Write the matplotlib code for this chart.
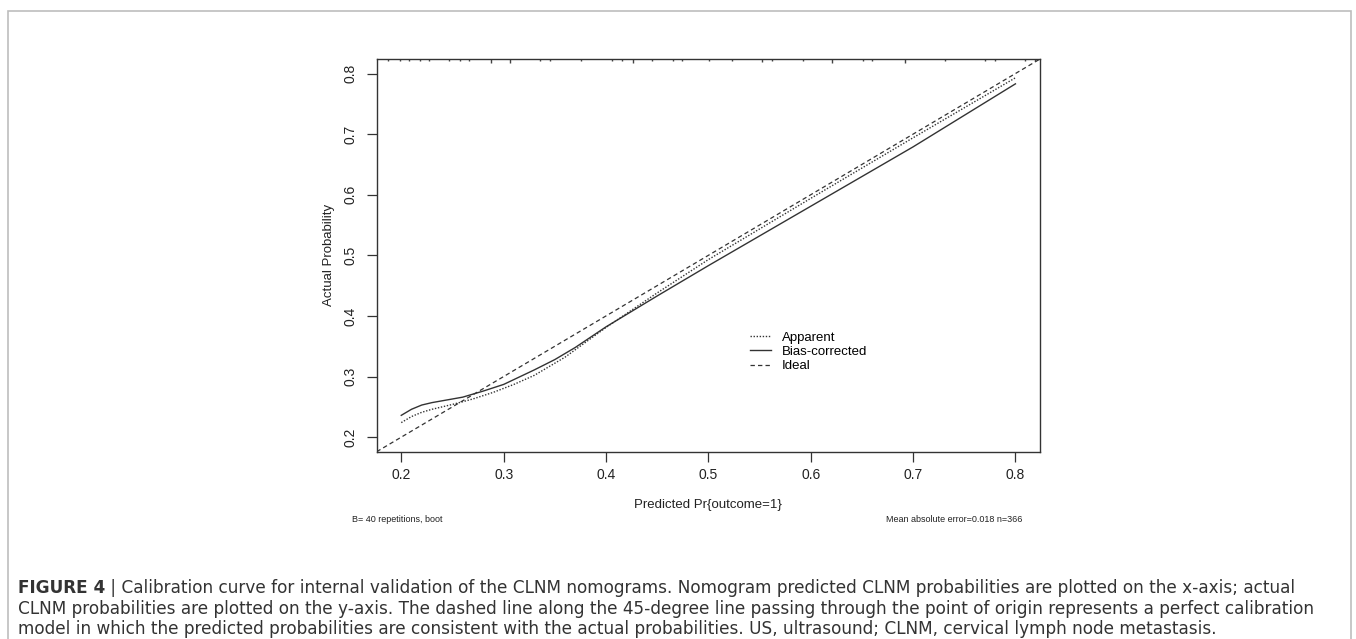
import matplotlib
matplotlib.use("Agg")
import matplotlib.pyplot as plt
from matplotlib.patches import Rectangle
import matplotlib.transforms as mtransforms

plt.rcParams['font.family'] = ['Liberation Sans', 'DejaVu Sans']

# ---- data ----
apparent_x = [0.20, 0.21, 0.22, 0.23, 0.25, 0.27, 0.29, 0.31, 0.33, 0.36, 0.40, 0.45, 0.50, 0.60, 0.70, 0.80]
apparent_y = [0.224, 0.234, 0.241, 0.246, 0.254, 0.263, 0.274, 0.287, 0.302, 0.332, 0.381, 0.438, 0.493, 0.594, 0.694, 0.793]

bias_x = [0.20, 0.21, 0.22, 0.23, 0.24, 0.26, 0.28, 0.30, 0.33, 0.35, 0.37, 0.40, 0.45, 0.50, 0.60, 0.70, 0.80]
bias_y = [0.236, 0.246, 0.253, 0.257, 0.260, 0.266, 0.276, 0.287, 0.311, 0.328, 0.348, 0.382, 0.433, 0.483, 0.581, 0.679, 0.783]

ideal_x = [0.176, 0.824]
ideal_y = [0.176, 0.824]

# distribution of predicted values (spike marks at top of plot)
rug_x = [0.187, 0.199, 0.208, 0.218, 0.227, 0.247, 0.257, 0.266, 0.288, 0.306, 0.336,
         0.345, 0.376, 0.406, 0.416, 0.426, 0.445, 0.465, 0.474, 0.501, 0.523, 0.552,
         0.562, 0.592, 0.621, 0.651, 0.660, 0.692, 0.731, 0.770, 0.780, 0.809, 0.819]
rug_n = [1, 1, 1, 1, 1, 1, 1, 1, 3, 3, 1,
         1, 1, 1, 1, 3, 1, 1, 1, 1, 1, 2,
         1, 1, 3, 1, 1, 3, 1, 1, 1, 1, 1]

ticks = [0.2, 0.3, 0.4, 0.5, 0.6, 0.7, 0.8]
tick_labels = ['0.2', '0.3', '0.4', '0.5', '0.6', '0.7', '0.8']

caption_bold = "FIGURE 4"
caption_lines = [
    " | Calibration curve for internal validation of the CLNM nomograms. Nomogram predicted CLNM probabilities are plotted on the x-axis; actual",
    "CLNM probabilities are plotted on the y-axis. The dashed line along the 45-degree line passing through the point of origin represents a perfect calibration",
    "model in which the predicted probabilities are consistent with the actual probabilities. US, ultrasound; CLNM, cervical lymph node metastasis.",
]

W, H = 1356, 639
fig = plt.figure(figsize=(W / 100, H / 100), dpi=100)
fig.patch.set_facecolor('white')

# outer border
fig.patches.append(Rectangle((8 / W, -0.05), (1351 - 8) / W, (H - 11) / H + 0.05,
                             transform=fig.transFigure, fill=False,
                             edgecolor='#bdbdbd', linewidth=1.2))

ax_h_px = 451.7 - 59
ax = fig.add_axes([376.7 / W, 1 - 451.7 / H, (1040 - 376.7) / W, ax_h_px / H])
lc = '#333333'
ax.plot(apparent_x, apparent_y, linestyle=(0, (1, 1.2)), color=lc, lw=1.0, label='Apparent')
ax.plot(bias_x, bias_y, linestyle='-', color=lc, lw=1.0, label='Bias-corrected')
ax.plot(ideal_x, ideal_y, linestyle=(0, (3.5, 2.5)), color=lc, lw=0.9, label='Ideal')

ax.set_xlim(0.176, 0.824)
ax.set_ylim(0.176, 0.824)

trans = mtransforms.blended_transform_factory(ax.transData, ax.transAxes)
ax.vlines(rug_x, [1 - (1 + n) / ax_h_px for n in rug_n], 1, transform=trans, color='#444444', lw=1.0)

ax.set_xticks(ticks)
ax.set_xticklabels(tick_labels)
ax.set_yticks(ticks)
ax.set_yticklabels(tick_labels, rotation=90, va='center')
ax.tick_params(direction='out', length=7, width=0.9, color=lc, labelsize=10, labelcolor='#222222')
ax.tick_params(axis='x', pad=5)
ax.tick_params(axis='y', pad=7)
for s in ax.spines.values():
    s.set_color(lc)
    s.set_linewidth(1.0)

ax.set_xlabel('Predicted Pr{outcome=1}', fontsize=9.5, color='#222222', labelpad=12)
ax.set_ylabel('Actual Probability', fontsize=9.5, color='#222222', labelpad=6)

ax.legend(loc='upper left', bbox_to_anchor=(0.555, 0.32), frameon=False,
          fontsize=9.5, handlelength=1.6, handletextpad=0.8, labelspacing=0.16,
          borderaxespad=0)

fig.text(352 / W, 1 - 519 / H, 'B= 40 repetitions, boot', fontsize=6.5, va='center', ha='left', color='#222222')
fig.text(1022 / W, 1 - 519 / H, 'Mean absolute error=0.018 n=366', fontsize=6.5, va='center', ha='right', color='#222222')

cap_font = dict(fontsize=12.2, family=['DejaVu Sans'], color='#333333', va='baseline', ha='left')
ys = [593, 614, 634.5]
renderer = fig.canvas.get_renderer()
tb = fig.text(18 / W, 1 - ys[0] / H, caption_bold, fontweight='bold', **cap_font)
bb = tb.get_window_extent(renderer=renderer)
fig.text(bb.x1 / W, 1 - ys[0] / H, caption_lines[0], **cap_font)
for line, y in zip(caption_lines[1:], ys[1:]):
    fig.text(18 / W, 1 - y / H, line, **cap_font)

fig.savefig('out.png', dpi=100, facecolor='white')
